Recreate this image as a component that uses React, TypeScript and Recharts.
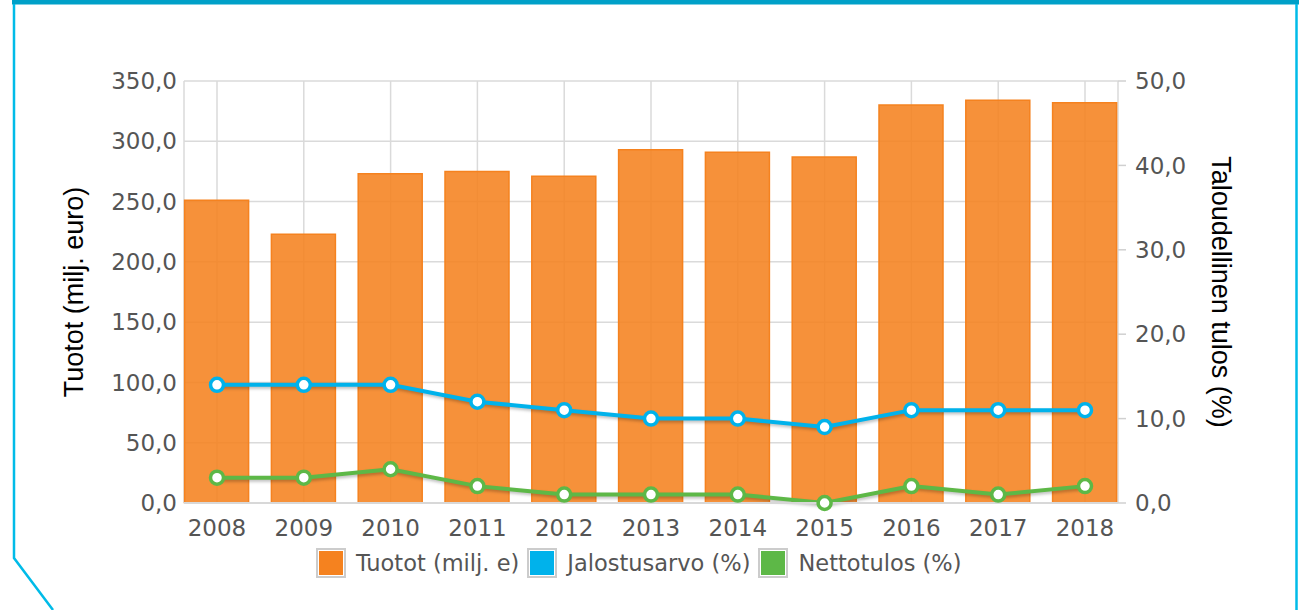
import { Bar, CartesianGrid, ComposedChart, Line, XAxis, YAxis } from 'recharts';

const years = ['2008', '2009', '2010', '2011', '2012', '2013', '2014', '2015', '2016', '2017', '2018'];
const tuotot = [251, 223, 273, 275, 271, 293, 291, 287, 330, 334, 332];
const jalostusarvo = [14, 14, 14, 12, 11, 10, 10, 9, 11, 11, 11];
const nettotulos = [3, 3, 4, 2, 1, 1, 1, 0, 2, 1, 2];

const leftTicks = [0, 50, 100, 150, 200, 250, 300, 350];
const rightTicks = [0, 10, 20, 30, 40, 50];

const series = [
  { key: 'tuotot', name: 'Tuotot (milj. e)', color: '#F5821F' },
  { key: 'jalostusarvo', name: 'Jalostusarvo (%)', color: '#00B2EB' },
  { key: 'nettotulos', name: 'Nettotulos (%)', color: '#5DB847' }
];

const data = years.map((year, i) => ({
  year,
  tuotot: tuotot[i],
  jalostusarvo: jalostusarvo[i],
  nettotulos: nettotulos[i]
}));

const fmt = (v: number) => v.toFixed(1).replace('.', ',');

const tickFont = { fontFamily: 'DejaVu Sans, Verdana, sans-serif', fontSize: 23, fill: '#555' };
const titleFont = { fontFamily: 'Liberation Sans, Arial, sans-serif', fontSize: 27, fill: '#000', textAnchor: 'middle' as const };

function Frame() {
  return (
    <svg width={1299} height={610} style={{ position: 'absolute', left: 0, top: 0 }}>
      <rect x={12} y={0} width={1287} height={4.5} fill="#00A0C8" />
      <polyline points="14,4 14,558 53,610" fill="none" stroke="#00BBE8" strokeWidth={2.5} />
      <line x1={1296.5} y1={4} x2={1296.5} y2={610} stroke="#00BBE8" strokeWidth={2.5} />
    </svg>
  );
}

function ChartLegend() {
  return (
    <div
      style={{
        position: 'absolute',
        left: 316,
        top: 550,
        display: 'flex',
        alignItems: 'center',
        fontFamily: 'DejaVu Sans, Verdana, sans-serif',
        fontSize: 22.5,
        color: '#555'
      }}
    >
      {series.map((s) => (
        <div key={s.key} style={{ display: 'flex', alignItems: 'center', marginRight: 8 }}>
          <span
            style={{
              width: 24,
              height: 24,
              background: s.color,
              border: '1px solid #fff',
              outline: '2px solid #ccc',
              marginRight: 12,
              marginLeft: 2
            }}
          />
          <span>{s.name}</span>
        </div>
      ))}
    </div>
  );
}

export default function App() {
  return (
    <div style={{ position: 'absolute', left: 0, top: 0, width: 1299, height: 610, background: '#fff' }}>
      <style>{`.recharts-line-curve { filter: drop-shadow(1px 2px 1.5px rgba(0,0,0,0.25)); }`}</style>
      <Frame />
      <div style={{ position: 'absolute', left: 0, top: 0 }}>
        <ComposedChart width={1299} height={610} data={data} margin={{ top: 81, right: 0, bottom: 0, left: 0 }}>
          <CartesianGrid yAxisId="left" stroke="#dadada" strokeWidth={1.5} />
          <XAxis
            dataKey="year"
            height={107}
            padding={{ left: -10.4, right: -10.4 }}
            tickLine={false}
            tickSize={0}
            tickMargin={17}
            axisLine={{ stroke: '#d8d8d8', strokeWidth: 2 }}
            tick={tickFont}
          />
          <YAxis
            yAxisId="left"
            width={184}
            domain={[0, 350]}
            ticks={leftTicks}
            tickFormatter={fmt}
            axisLine={false}
            tickLine={false}
            tickSize={0}
            tickMargin={7}
            tick={tickFont}
            label={{ value: 'Tuotot (milj. euro)', angle: -90, position: 'insideLeft', offset: 73, style: titleFont }}
          />
          <YAxis
            yAxisId="right"
            orientation="right"
            width={181}
            domain={[0, 50]}
            ticks={rightTicks}
            tickFormatter={fmt}
            axisLine={false}
            tickLine={{ stroke: '#d0d0d0', strokeWidth: 1.5 }}
            tickSize={8}
            tickMargin={9}
            tick={tickFont}
            label={{ value: 'Taloudellinen tulos (%)', angle: 90, position: 'insideRight', offset: 77, style: titleFont }}
          />
          <Bar
            yAxisId="left"
            dataKey="tuotot"
            name={series[0].name}
            barSize={64}
            fill="#F5821F"
            fillOpacity={0.88}
            stroke="#F5821F"
            strokeWidth={1.5}
            isAnimationActive={false}
          />
          <Line
            yAxisId="right"
            dataKey="jalostusarvo"
            name={series[1].name}
            type="linear"
            stroke={series[1].color}
            strokeWidth={4}
            dot={{ r: 6.5, fill: '#fff', stroke: series[1].color, strokeWidth: 3.5 }}
            isAnimationActive={false}
          />
          <Line
            yAxisId="right"
            dataKey="nettotulos"
            name={series[2].name}
            type="linear"
            stroke={series[2].color}
            strokeWidth={4}
            dot={{ r: 6.5, fill: '#fff', stroke: series[2].color, strokeWidth: 3.5 }}
            isAnimationActive={false}
          />
        </ComposedChart>
      </div>
      <ChartLegend />
    </div>
  );
}
